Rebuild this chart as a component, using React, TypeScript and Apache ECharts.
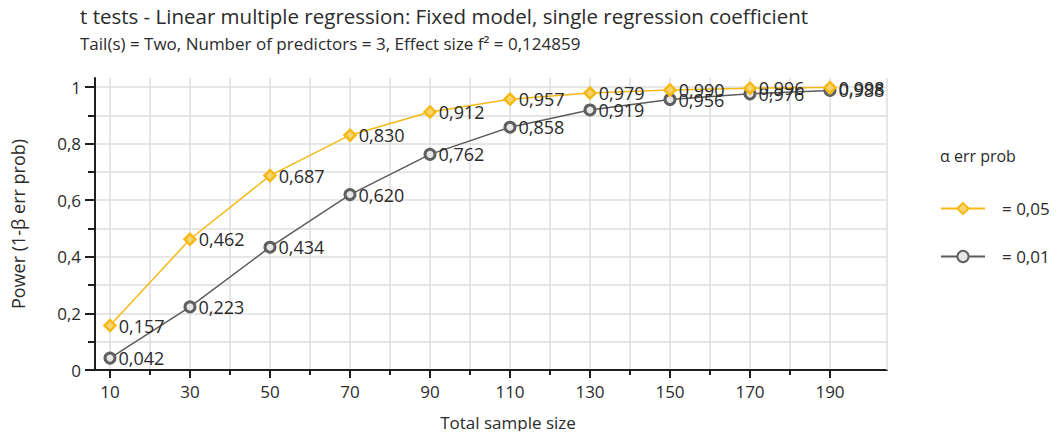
import React, { useEffect, useRef } from "react";
import * as echarts from "echarts";

const sampleSizes = [10, 30, 50, 70, 90, 110, 130, 150, 170, 190];
const power005 = [0.157, 0.462, 0.687, 0.83, 0.912, 0.957, 0.979, 0.99, 0.996, 0.998];
const power001 = [0.042, 0.223, 0.434, 0.62, 0.762, 0.858, 0.919, 0.956, 0.976, 0.988];
const xMajorTicks = [10, 30, 50, 70, 90, 110, 130, 150, 170, 190];
const xMinorTicks = [20, 40, 60, 80, 100, 120, 140, 160, 180];
const yMajorTicks = [0, 0.2, 0.4, 0.6, 0.8, 1];
const yMinorTicks = [0.1, 0.3, 0.5, 0.7, 0.9];
const seriesNames = ["= 0,05", "= 0,01"];

const FONT = "'Open Sans', Inter, sans-serif";
const XMIN = 6.25;
const XMAX = 204.25;
const YMAX = 1.032;
const YELLOW = "#F5B915";
const GRAY = "#5c5c5c";
const GRID = "#dedede";
const TXT = "#2b2b2b";

const fmt = (v: number) => {
  if (v === 0) return "0";
  if (v === 1) return "1";
  return String(Math.round(v * 10) / 10).replace(".", ",");
};

export default function App() {
  const ref = useRef<HTMLDivElement>(null);
  useEffect(() => {
    if (!ref.current) return;
    const chart = echarts.init(ref.current, null, { renderer: "svg" });
    const label = {
      show: true,
      position: "right" as const,
      distance: 2,
      color: TXT,
      fontSize: 18,
      fontFamily: FONT,
      formatter: (p: any) => Number(p.value[1]).toFixed(3).replace(".", ","),
    };
    chart.setOption({
      animation: false,
      textStyle: { fontFamily: FONT },
      title: [
        {
          text: "t tests - Linear multiple regression: Fixed model, single regression coefficient",
          left: 80,
          top: 5,
          padding: 0,
          textStyle: { fontSize: 20.5, fontWeight: "normal", color: TXT, fontFamily: FONT },
        },
        {
          text: "Tail(s) = Two, Number of predictors = 3, Effect size f² = 0,124859",
          left: 80,
          top: 35,
          padding: 0,
          textStyle: { fontSize: 17, fontWeight: "normal", color: TXT, fontFamily: FONT },
        },
      ],
      graphic: [
        {
          type: "text",
          left: 940,
          top: 148,
          style: { text: "α err prob", fontSize: 16, fill: TXT, fontFamily: FONT },
        },
      ],
      legend: {
        orient: "vertical",
        left: 940,
        top: 200,
        padding: 0,
        itemWidth: 44,
        itemHeight: 14,
        itemGap: 31,
        textStyle: { fontSize: 17, color: TXT, fontFamily: FONT, padding: [0, 0, 0, 12] },
        data: seriesNames,
      },
      grid: { left: 95, right: 171, top: 78, bottom: 69 },
      xAxis: [
        {
          type: "value",
          min: XMIN,
          max: XMAX,
          position: "bottom",
          name: "Total sample size",
          nameLocation: "middle",
          nameGap: 44,
          nameTextStyle: { fontSize: 17, color: TXT, fontFamily: FONT, padding: [0, 0, 0, 34] },
          axisLine: { show: true, lineStyle: { color: "#1e1e1e", width: 2 } },
          axisTick: { show: true, customValues: xMajorTicks, length: 8, lineStyle: { color: "#1e1e1e", width: 2 } },
          axisLabel: { customValues: xMajorTicks, fontSize: 17, color: TXT, margin: 13, fontFamily: FONT },
          splitLine: { show: true, lineStyle: { color: GRID, width: 1.5 } },
        },
        {
          type: "value",
          min: XMIN,
          max: XMAX,
          position: "bottom",
          offset: 0,
          axisLine: { show: false },
          axisTick: { show: true, customValues: xMinorTicks, length: 5, lineStyle: { color: "#1e1e1e", width: 2 } },
          axisLabel: { show: false },
          splitLine: { show: true, lineStyle: { color: GRID, width: 1.5 } },
        },
      ],
      yAxis: [
        {
          type: "value",
          min: 0,
          max: YMAX,
          position: "left",
          name: "Power (1-β err prob)",
          nameLocation: "middle",
          nameGap: 68,
          nameRotate: 90,
          nameTextStyle: { fontSize: 18, color: TXT, fontFamily: FONT },
          axisLine: { show: true, lineStyle: { color: "#1e1e1e", width: 2 } },
          axisTick: { show: true, customValues: yMajorTicks, length: 10, lineStyle: { color: "#1e1e1e", width: 2 } },
          axisLabel: { customValues: yMajorTicks, fontSize: 17, color: TXT, margin: 14, fontFamily: FONT, formatter: fmt },
          splitLine: { show: true, lineStyle: { color: GRID, width: 1.5 } },
        },
        {
          type: "value",
          min: 0,
          max: YMAX,
          position: "left",
          offset: 0,
          axisLine: { show: false },
          axisTick: { show: true, customValues: yMinorTicks, length: 7, lineStyle: { color: "#1e1e1e", width: 2 } },
          axisLabel: { show: false },
          splitLine: { show: true, lineStyle: { color: GRID, width: 1.5 } },
        },
      ],
      series: [
        {
          name: seriesNames[0],
          type: "line",
          xAxisIndex: 0,
          yAxisIndex: 0,
          data: sampleSizes.map((x, i) => [x, power005[i]]),
          symbol: "diamond",
          symbolSize: 11,
          lineStyle: { color: YELLOW, width: 1.5 },
          itemStyle: { color: "#f8d56e", borderColor: YELLOW, borderWidth: 2.5 },
          label,
          z: 3,
          markLine: {
            silent: true,
            symbol: "none",
            label: { show: false },
            lineStyle: { color: GRID, width: 1.5, type: "solid" },
            data: [{ xAxis: XMAX }],
          },
        },
        {
          name: seriesNames[1],
          type: "line",
          xAxisIndex: 0,
          yAxisIndex: 0,
          data: sampleSizes.map((x, i) => [x, power001[i]]),
          symbol: "circle",
          symbolSize: 10,
          lineStyle: { color: GRAY, width: 1.5 },
          itemStyle: { color: "#e6e6e6", borderColor: "#606060", borderWidth: 3 },
          label,
          z: 2,
        },
      ],
    });
    return () => chart.dispose();
  }, []);
  return <div ref={ref} style={{ width: 1058, height: 439, margin: -8 }} />;
}
